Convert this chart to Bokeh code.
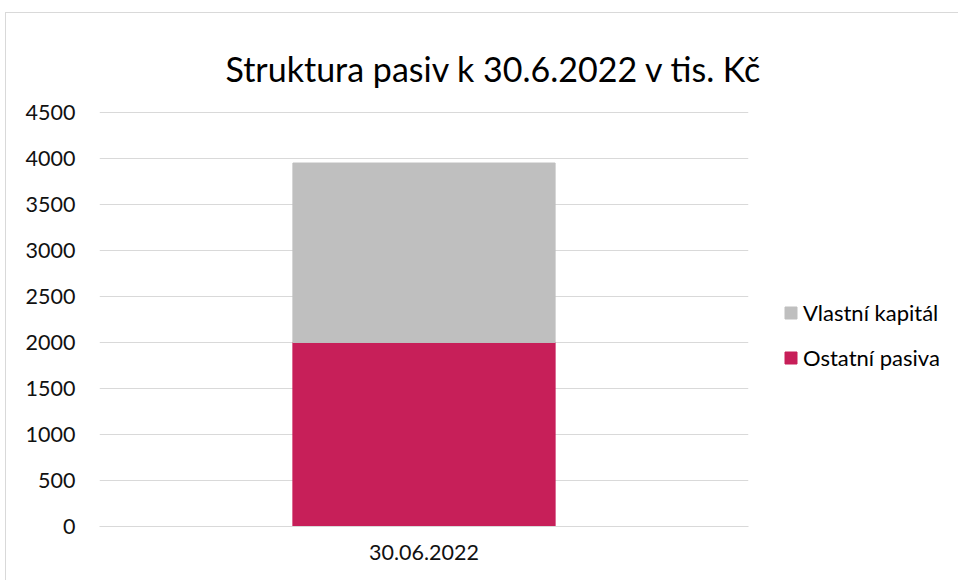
from bokeh.plotting import figure
from bokeh.models import (ColumnDataSource, FactorRange, Range1d, FixedTicker, Legend, LegendItem)
from bokeh.embed import file_html
from bokeh.resources import INLINE

# ---- data ----
categories = ["30.06.2022"]
ostatni_pasiva = [2000]
vlastni_kapital = [1950]
series_names = ["Ostatní pasiva", "Vlastní kapitál"]
series_colors = ["#C71F59", "#BFBFBF"]
y_ticks = [0, 500, 1000, 1500, 2000, 2500, 3000, 3500, 4000, 4500]
title_text = "Struktura pasiv k 30.6.2022 v tis. Kč"

FONT = "Lato"

source = ColumnDataSource(dict(cat=categories, ostatni=ostatni_pasiva, vlastni=vlastni_kapital))

p = figure(frame_width=649, frame_height=415, output_backend="svg", toolbar_location=None,
           x_range=FactorRange(*categories, range_padding=0), y_range=Range1d(0, 4510),
           min_border_left=93, min_border_right=211, min_border_top=98, min_border_bottom=55,
           styles={"border": "1px solid #D9D9D9", "margin-left": "5px", "margin-top": "12px"})
p.outline_line_color = None
p.background_fill_color = "white"
p.border_fill_color = "white"

renderers = p.vbar_stack(["ostatni", "vlastni"], x="cat", width=0.404, color=series_colors,
                         source=source)

# grids
p.xgrid.visible = False
p.ygrid.ticker = FixedTicker(ticks=y_ticks)
p.ygrid.grid_line_color = "#D9D9D9"

# y axis
p.yaxis.ticker = FixedTicker(ticks=y_ticks)
p.yaxis.axis_line_color = None
p.yaxis.major_tick_line_color = None
p.yaxis.minor_tick_line_color = None
p.yaxis.major_label_text_font = FONT
p.yaxis.major_label_text_font_size = "21.5px"
p.yaxis.major_label_text_color = "#111111"
p.yaxis.major_label_standoff = 18

# category axis
p.xaxis.axis_line_color = "#D9D9D9"
p.xaxis.major_tick_line_color = None
p.xaxis.major_label_text_font = FONT
p.xaxis.major_label_text_font_size = "21.5px"
p.xaxis.major_label_text_color = "#111111"
p.xaxis.major_label_standoff = 12

# title
p.title.text = title_text
p.title.align = "left"
p.title.offset = 126
p.title.standoff = 43
p.title.vertical_align = "middle"
p.title.text_font = FONT
p.title.text_font_size = "34px"
p.title.text_font_style = "normal"
p.title.text_color = "#000000"

# legend
legend = Legend(items=[LegendItem(label=series_names[1], renderers=[renderers[1]]),
                       LegendItem(label=series_names[0], renderers=[renderers[0]])],
                location=(35, 155), orientation="vertical")
legend.padding = 0
legend.margin = 0
legend.border_line_color = None
legend.background_fill_alpha = 0
legend.glyph_width = 15
legend.glyph_height = 15
legend.label_height = 20
legend.label_standoff = 5
legend.spacing = 18
legend.label_text_font = FONT
legend.label_text_font_size = "22px"
legend.label_text_color = "#000000"
p.add_layout(legend, "right")

open("out.html", "w").write(file_html(p, INLINE))
